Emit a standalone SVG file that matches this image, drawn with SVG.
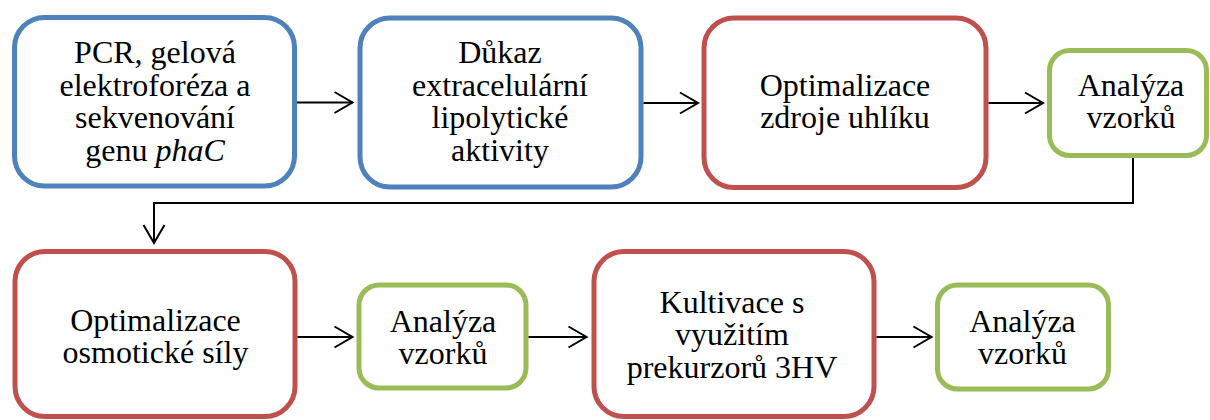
<svg xmlns="http://www.w3.org/2000/svg" width="1210" height="420" viewBox="0 0 1210 420">
<style>
.box{fill:#fff;stroke-width:5}
.blue{stroke:#4F81BD}
.red{stroke:#C0504D}
.green{stroke:#9BBB59}
.t{font-family:'Liberation Serif','Times New Roman','DejaVu Serif',serif;font-size:32px;fill:#000;text-anchor:middle}
.conn{fill:none;stroke:#000;stroke-width:2}
</style>
<defs>
<marker id="arr" markerUnits="userSpaceOnUse" markerWidth="24" markerHeight="26" refX="20" refY="12" orient="auto" viewBox="0 0 24 24" overflow="visible">
<path d="M2,1.5 L20,12 L2,22.5" fill="none" stroke="#000" stroke-width="2"/>
</marker>
</defs>
<rect width="1210" height="420" fill="#fff"/>
<g id="n1">
<rect class="box blue" x="14.5" y="17.5" width="280" height="168.5" rx="30"/>
<g class="t" font-family="Liberation Serif, serif">
<text x="155" y="63">PCR, gelová</text>
<text x="155" y="95.5">elektroforéza a</text>
<text x="155" y="128">sekvenování</text>
<text x="155" y="160.5">genu <tspan font-style="italic">phaC</tspan></text>
</g>
</g>
<g id="n2">
<rect class="box blue" x="360" y="18" width="281" height="169" rx="30"/>
<g class="t" font-family="Liberation Serif, serif">
<text x="500" y="63">Důkaz</text>
<text x="500" y="95.5">extracelulární</text>
<text x="500" y="128">lipolytické</text>
<text x="500" y="160.5">aktivity</text>
</g>
</g>
<g id="n3">
<rect class="box red" x="704" y="18" width="282" height="169.5" rx="30"/>
<g class="t" font-family="Liberation Serif, serif">
<text x="845" y="95.5">Optimalizace</text>
<text x="845" y="128">zdroje uhlíku</text>
</g>
</g>
<g id="n4">
<rect class="box green" x="1049.5" y="50.5" width="157" height="105" rx="20"/>
<g class="t" font-family="Liberation Serif, serif">
<text x="1131" y="95.5">Analýza</text>
<text x="1131" y="128">vzorků</text>
</g>
</g>
<g id="n5">
<rect class="box red" x="15" y="251.5" width="280" height="165" rx="30"/>
<g class="t" font-family="Liberation Serif, serif">
<text x="155.5" y="330.5">Optimalizace</text>
<text x="155.5" y="363">osmotické síly</text>
</g>
</g>
<g id="n6">
<rect class="box green" x="359" y="285" width="167" height="103" rx="20"/>
<g class="t" font-family="Liberation Serif, serif">
<text x="443" y="331.5">Analýza</text>
<text x="443" y="363.5">vzorků</text>
</g>
</g>
<g id="n7">
<rect class="box red" x="594" y="251.5" width="280" height="165" rx="30"/>
<g class="t" font-family="Liberation Serif, serif">
<text x="732" y="312.5">Kultivace s</text>
<text x="732" y="345">využitím</text>
<text x="732" y="377.5">prekurzorů 3HV</text>
</g>
</g>
<g id="n8">
<rect class="box green" x="937.5" y="285" width="171" height="104" rx="20"/>
<g class="t" font-family="Liberation Serif, serif">
<text x="1022.5" y="331.5">Analýza</text>
<text x="1022.5" y="363.5">vzorků</text>
</g>
</g>
<g id="connectors">
<path class="conn" d="M297,102.5 H352.5" marker-end="url(#arr)"/>
<path class="conn" d="M643.5,103 H698" marker-end="url(#arr)"/>
<path class="conn" d="M988.5,103 H1043" marker-end="url(#arr)"/>
<path class="conn" d="M1133,158 V203 H154 V243" marker-end="url(#arr)"/>
<path class="conn" d="M297.5,337 H352.5" marker-end="url(#arr)"/>
<path class="conn" d="M528.5,337 H586.5" marker-end="url(#arr)"/>
<path class="conn" d="M876.5,337 H931.5" marker-end="url(#arr)"/>
</g>
</svg>
